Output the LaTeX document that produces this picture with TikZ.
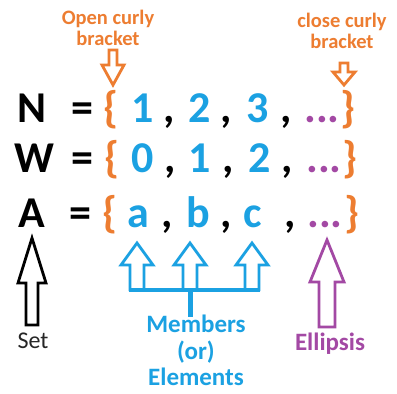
\documentclass[tikz,border=0pt]{standalone}
\usepackage{fontspec}
\setmainfont{Carlito}
\definecolor{orng}{RGB}{237,125,49}
\definecolor{blu}{RGB}{27,161,226}
\definecolor{purp}{RGB}{163,73,164}
\begin{document}
\begin{tikzpicture}[x=1pt,y=-1pt,
  glyph/.style={anchor=base, inner sep=0pt, font=\fontsize{44}{44}\selectfont\bfseries},
  brc/.style={anchor=base, inner sep=0pt, text=orng, font=\fontsize{44}{44}\selectfont\bfseries},
  elem/.style={glyph, text=blu},
  dots/.style={glyph, text=purp},
  lbl/.style={inner sep=0pt, align=center, font=\fontsize{20.5}{21}\selectfont\bfseries},
  blocka/.style={line width=2.8pt, line join=miter}]
\useasboundingbox[fill=white] (0,0) rectangle (397,394);
% Row N
\node[glyph] (nN) at (32,122) {N};
\node[glyph] (nEq) at (82,122) {=};
\node[brc] (nL) at (111,122) {\{};
\node[elem] (n1) at (143,122) {1};
\node[glyph] (nc1) at (169,122) {,};
\node[elem] (n2) at (200,122) {2};
\node[glyph] (nc2) at (226,122) {,};
\node[elem] (n3) at (258,122) {3};
\node[glyph] (nc3) at (286,122) {,};
\node[dots] (nD) at (322,122) {...};
\node[brc] (nR) at (348,122) {\}};
% Row W
\node[glyph] (wW) at (34,172) {W};
\node[glyph] (wEq) at (82,172) {=};
\node[brc] (wL) at (112,172) {\{};
\node[elem] (w0) at (143,172) {0};
\node[glyph] (wc1) at (170,172) {,};
\node[elem] (w1) at (200,172) {1};
\node[glyph] (wc2) at (228,172) {,};
\node[elem] (w2) at (260,172) {2};
\node[glyph] (wc3) at (287,172) {,};
\node[dots] (wD) at (324,172) {...};
\node[brc] (wR) at (350,172) {\}};
% Row A
\node[glyph] (aA) at (32,227) {A};
\node[glyph] (aEq) at (80,227) {=};
\node[brc] (aL) at (110,227) {\{};
\node[elem] (aa) at (138,227) {a};
\node[glyph] (ac1) at (167,227) {,};
\node[elem] (ab) at (198,227) {b};
\node[glyph] (ac2) at (226,227) {,};
\node[elem] (ac) at (253,227) {c};
\node[glyph] (ac3) at (290,227) {,};
\node[dots] (aD) at (325,227) {...};
\node[brc] (aR) at (352,227) {\}};
% Top labels
\node[lbl, text=orng, anchor=north] (open) at (108,10) {Open curly\\bracket};
\node[lbl, text=orng, anchor=north] (close) at (342,13) {close curly\\bracket};
% Orange down arrows
\draw[blocka, draw=orng] (109,50) -- (109,65) -- (102,65) -- (113,85) -- (124,65) -- (117,65) -- (117,50) -- cycle;
\draw[blocka, draw=orng] (340,63) -- (340,72) -- (333,72) -- (344,85) -- (355,72) -- (348,72) -- (348,63) -- cycle;
% Black up arrow (Set)
\draw[blocka, draw=black] (26,325) -- (26,283) -- (18,283) -- (32,238) -- (46,283) -- (38,283) -- (38,325) -- cycle;
\node[inner sep=0pt, anchor=base, font=\fontsize{24}{24}\selectfont, text=black!85] (set) at (33,348) {Set};
% Purple up arrow (Ellipsis)
\draw[blocka, draw=purp] (319,327) -- (319,282) -- (310,282) -- (327,240) -- (344,282) -- (335,282) -- (335,327) -- cycle;
\node[inner sep=0pt, anchor=base, font=\fontsize{25}{25}\selectfont\bfseries, text=purp] (ell) at (330,350) {Ellipsis};
% Blue arrows
\foreach \cx in {137,190,252}{
  \draw[blocka, draw=blu] (\cx-7,291) -- (\cx-7,265) -- (\cx-16,265) -- (\cx,243) -- (\cx+16,265) -- (\cx+7,265) -- (\cx+7,291);
}
\coordinate (barL) at (129,290);
\coordinate (barR) at (260,290);
\coordinate (stemT) at (190,290);
\coordinate (stemB) at (190,317);
\draw[line width=3.5pt, draw=blu] (barL) -- (barR);
\draw[line width=5pt, draw=blu] (stemT) -- (stemB);
\node[inner sep=0pt, anchor=north, align=center, text=blu, font=\fontsize{25}{26.5}\selectfont\bfseries] (mem) at (196,315) {Members\\(or)\\Elements};
\end{tikzpicture}
\end{document}
